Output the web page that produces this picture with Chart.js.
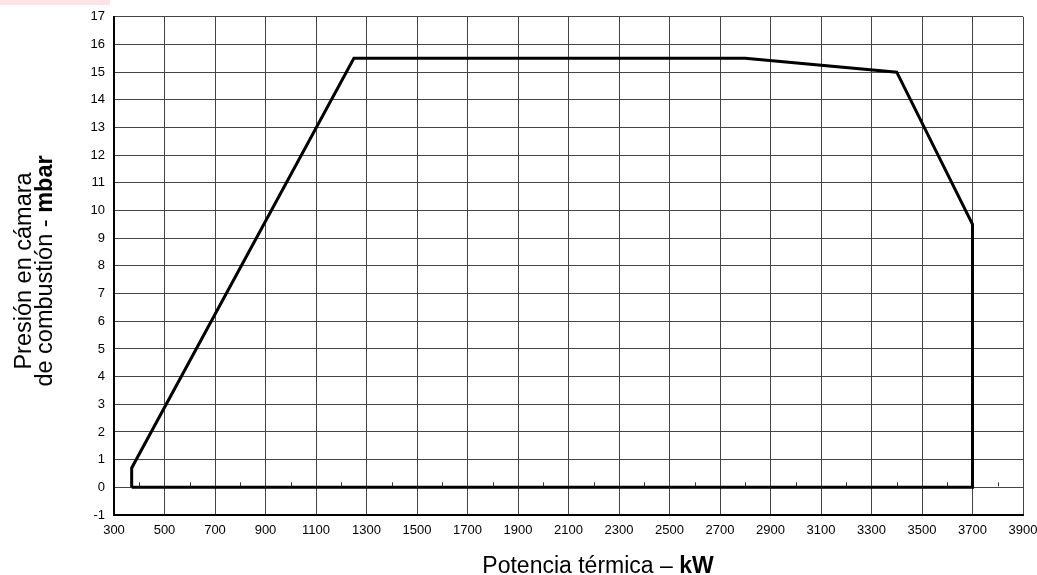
<!DOCTYPE html>
<html>
<head>
<meta charset="utf-8">
<script src="https://cdn.jsdelivr.net/npm/chart.js@4/dist/chart.umd.min.js"></script>
<style>
  html, body { margin: 0; padding: 0; background: #fff; }
  #wrap { position: relative; width: 1037px; height: 575px; font-family: "Liberation Sans", Arial, sans-serif; overflow: hidden; }
  #corner { position: absolute; left: 0; top: 0; width: 110px; height: 5px; background: #fde3e3; }
  .ytitle {
    position: absolute; left: 34px; top: 271px; width: 320px;
    transform: translate(-50%, -50%) rotate(-90deg);
    text-align: center; font-size: 23.5px; line-height: 21px; color: #000; white-space: nowrap;
  }
  .xtitle {
    position: absolute; left: 598px; top: 565px; transform: translate(-50%, -50%);
    font-size: 23px; color: #000; white-space: nowrap;
  }
</style>
</head>
<body>
<div id="wrap">
  <canvas id="chart"></canvas>
  <div id="corner"></div>
  <div class="ytitle">Presión en cámara<br>de combustión - <b>mbar</b></div>
  <div class="xtitle">Potencia térmica – <b>kW</b></div>
</div>
<script>
// ── Data: operating range envelope ──
const powerKW = [370, 370, 1250, 2800, 3400, 3700, 3700, 370];
const pressureMbar = [0, 0.7, 15.5, 15.5, 15, 9.5, 0, 0];

const xMin = 300, xMax = 3900, xStep = 200;
const yMin = -1, yMax = 17, yStep = 1;

const points = powerKW.map((x, i) => ({ x, y: pressureMbar[i] }));

// small ticks on the zero line, halfway between x grid lines
const minorTicks = {
  id: 'minorTicks',
  afterDatasetsDraw(chart) {
    const { ctx, scales: { x, y } } = chart;
    const y0 = y.getPixelForValue(0);
    ctx.save();
    ctx.strokeStyle = '#333';
    ctx.lineWidth = 1;
    for (let v = xMin + xStep / 2; v < xMax; v += xStep) {
      const px = Math.round(x.getPixelForValue(v)) + 0.5;
      ctx.beginPath();
      ctx.moveTo(px, y0 - 1);
      ctx.lineTo(px, y0 - 5);
      ctx.stroke();
    }
    ctx.restore();
  }
};

const tickFont = { family: '"Liberation Sans", Arial, sans-serif', size: 13 };

new Chart(document.getElementById('chart'), {
  type: 'scatter',
  data: {
    datasets: [{
      data: points,
      showLine: true,
      borderColor: '#000',
      borderWidth: 3,
      pointRadius: 0,
      tension: 0,
      fill: false
    }]
  },
  options: {
    responsive: true,
    maintainAspectRatio: false,
    animation: false,
    layout: { padding: { left: 0, top: 15, right: 14, bottom: 0 } },
    plugins: { legend: { display: false }, tooltip: { enabled: false } },
    scales: {
      x: {
        type: 'linear',
        min: xMin, max: xMax,
        afterFit: (s) => { s.height = 60; s.paddingLeft = 0; s.paddingRight = 0; },
        border: { color: '#000', width: 2 },
        grid: { color: '#444', lineWidth: 1, drawTicks: false },
        ticks: {
          stepSize: xStep, color: '#000', padding: 8, maxRotation: 0,
          font: tickFont,
          callback: (v) => String(v)
        }
      },
      y: {
        min: yMin, max: yMax,
        afterFit: (s) => { s.width = 114; },
        border: { color: '#000', width: 2 },
        grid: { color: '#444', lineWidth: 1, drawTicks: false },
        ticks: {
          stepSize: yStep, color: '#000', padding: 9,
          font: tickFont
        }
      }
    }
  },
  plugins: [minorTicks]
});
</script>
</body>
</html>
